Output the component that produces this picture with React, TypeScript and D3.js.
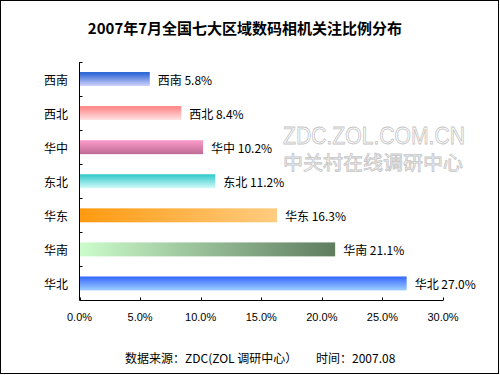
import React, { useEffect, useRef } from 'react';
import * as d3 from 'd3';

const regions = ['西南', '西北', '华中', '东北', '华东', '华南', '华北'];
const shares = [5.8, 8.4, 10.2, 11.2, 16.3, 21.1, 27.0];
const xTicks = [0, 5, 10, 15, 20, 25, 30];

// gradient per bar: [from, to, direction]
const fills = [
  ['#1f5fd2', '#d2d2fa', 'v'],
  ['#ff8080', '#ffe4e4', 'v'],
  ['#ff9ccc', '#bd6b95', 'v'],
  ['#2ec8c8', '#d4fafa', 'v'],
  ['#ff9a10', '#ffcc80', 'h'],
  ['#ccfccc', '#5f7c5f', 'h'],
  ['#3366ff', '#a0d0ff', 'v'],
];

const cjk = '"Noto Sans CJK SC", "Noto Sans", sans-serif';
const latin = '"Liberation Sans", Arial, sans-serif';

const App = () => {
  const svgRef = useRef(null);

  useEffect(() => {
    const svg = d3.select(svgRef.current);
    svg.selectAll('*').remove();

    const W = 500, H = 375;
    const left = 79.5, right = 443, top = 62, bottom = 300.5;

    const x = d3.scaleLinear().domain([0, 30]).range([left, right]);
    const y = d3.scaleBand().domain(regions).range([top, bottom]).paddingInner(0.59).paddingOuter(0.295);

    svg.append('rect')
      .attr('x', 0).attr('y', 0).attr('width', W).attr('height', H)
      .attr('fill', '#fff');
    svg.append('rect')
      .attr('x', 0.5).attr('y', 0.5).attr('width', 498).attr('height', 373)
      .attr('fill', 'none').attr('stroke', '#000');

    // gradients
    const defs = svg.append('defs');
    fills.forEach((f, i) => {
      const g = defs.append('linearGradient')
        .attr('id', 'g' + i)
        .attr('x1', 0).attr('y1', 0)
        .attr('x2', f[2] === 'h' ? 1 : 0)
        .attr('y2', f[2] === 'h' ? 0 : 1);
      g.append('stop').attr('offset', '0%').attr('stop-color', f[0]);
      g.append('stop').attr('offset', '100%').attr('stop-color', f[1]);
    });

    // title
    svg.append('text')
      .attr('x', 245).attr('y', 27)
      .attr('text-anchor', 'middle').attr('dominant-baseline', 'central')
      .style('font-family', cjk).style('font-size', '15px').style('font-weight', 'bold')
      .text('2007年7月全国七大区域数码相机关注比例分布');

    // watermark
    const wm = svg.append('g')
      .attr('fill', '#fff').attr('stroke', '#c4c4c4').attr('stroke-width', 0.8);
    wm.append('text')
      .attr('x', 374).attr('y', 144).attr('text-anchor', 'middle')
      .attr('textLength', 182).attr('lengthAdjust', 'spacingAndGlyphs')
      .style('font-family', latin).style('font-size', '23px')
      .text('ZDC.ZOL.COM.CN');
    wm.append('text')
      .attr('x', 373).attr('y', 170).attr('text-anchor', 'middle')
      .attr('textLength', 180).attr('lengthAdjust', 'spacingAndGlyphs')
      .style('font-family', cjk).style('font-size', '19px')
      .text('中关村在线调研中心');

    // bars
    svg.selectAll('.bar')
      .data(regions)
      .enter()
      .append('rect')
      .attr('class', 'bar')
      .attr('x', x(0))
      .attr('y', d => y(d))
      .attr('width', (d, i) => x(shares[i]) - x(0))
      .attr('height', y.bandwidth())
      .attr('fill', (d, i) => `url(#g${i})`);

    // value labels
    svg.selectAll('.val')
      .data(regions)
      .enter()
      .append('text')
      .attr('class', 'val')
      .attr('x', (d, i) => x(shares[i]) + 8)
      .attr('y', d => y(d) + y.bandwidth() / 2)
      .attr('dominant-baseline', 'central')
      .style('font-family', cjk).style('font-size', '12px')
      .text((d, i) => `${d} ${shares[i].toFixed(1)}%`);

    // y axis
    const yAxis = svg.append('g');
    yAxis.append('line')
      .attr('x1', left).attr('x2', left).attr('y1', top).attr('y2', bottom)
      .attr('stroke', '#000');
    const step = y.step();
    d3.range(regions.length).forEach(i => {
      const ty = Math.round(top + i * step) + 0.5;
      yAxis.append('line')
        .attr('x1', left).attr('x2', left + 3).attr('y1', ty).attr('y2', ty)
        .attr('stroke', '#000');
    });
    yAxis.selectAll('.cat')
      .data(regions)
      .enter()
      .append('text')
      .attr('x', 68)
      .attr('y', d => y(d) + y.bandwidth() / 2)
      .attr('text-anchor', 'end').attr('dominant-baseline', 'central')
      .style('font-family', cjk).style('font-size', '12px')
      .text(d => d);

    // x axis
    const xAxis = svg.append('g');
    xAxis.append('line')
      .attr('x1', left).attr('x2', right).attr('y1', bottom).attr('y2', bottom)
      .attr('stroke', '#000');
    xTicks.forEach(t => {
      const tx = Math.round(x(t)) + 0.5;
      xAxis.append('line')
        .attr('x1', tx).attr('x2', tx).attr('y1', bottom).attr('y2', bottom - 3)
        .attr('stroke', '#000');
      xAxis.append('text')
        .attr('x', x(t)).attr('y', 317)
        .attr('text-anchor', 'middle').attr('dominant-baseline', 'central')
        .style('font-family', latin).style('font-size', '11px')
        .text(t.toFixed(1) + '%');
    });

    // source note
    const note = svg.append('text')
      .attr('y', 357)
      .attr('dominant-baseline', 'central')
      .style('font-family', cjk).style('font-size', '12px');
    note.append('tspan').attr('x', 125).text('数据来源：ZDC(ZOL 调研中心）');
    note.append('tspan').attr('x', 316).text('时间：2007.08');
  }, []);

  return (
    <svg
      ref={svgRef}
      width={500}
      height={375}
      style={{ position: 'absolute', left: 0, top: 0 }}
    />
  );
};

export default App;
